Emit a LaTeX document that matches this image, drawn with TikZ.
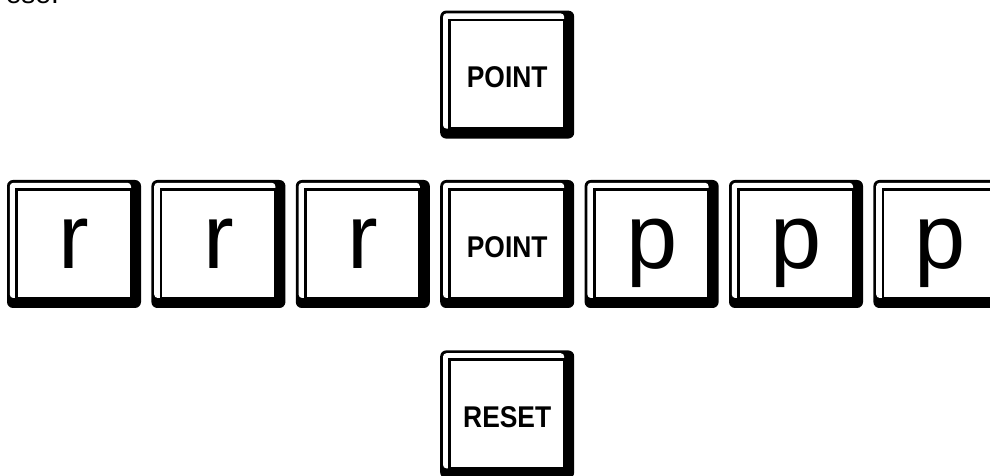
\documentclass[tikz,border=0pt]{standalone}
\usepackage{fontspec}
\setmainfont{Liberation Sans}
\newfontfamily\capfont[FakeStretch=0.88]{Liberation Sans}
\usetikzlibrary{positioning}

\begin{document}
\begin{tikzpicture}[x=1pt, y=1pt, node distance=10pt]
  \tikzstyle{keycap}=[rectangle, rounded corners=6pt, minimum width=134pt,
                   minimum height=128pt, inner sep=0pt, fill=black,
                   path picture={
                     \fill[white, rounded corners=3.5pt]
                       ([shift={(2.8pt,-2.8pt)}]path picture bounding box.north west) rectangle
                       ([shift={(-10pt,10pt)}]path picture bounding box.south east);
                     \draw[line width=2.8pt, fill=white, sharp corners]
                       ([shift={(9.5pt,-9.5pt)}]path picture bounding box.north west) rectangle
                       ([shift={(-10pt,10pt)}]path picture bounding box.south east);
                   }]
  \tikzstyle{letterkey}=[keycap, font=\fontsize{92}{92}\selectfont,
                   text height=49.7pt, text depth=0pt]
  \tikzstyle{wordkey}=[keycap, font=\capfont\bfseries\fontsize{30}{30}\selectfont,
                   text height=26.5pt, text depth=0pt]

  \useasboundingbox (0,0) rectangle (990,476);
  \clip (0,0) rectangle (990,476);

  % cut-off text from above
  \node[font=\fontsize{28}{28}\selectfont, anchor=base east, inner sep=0pt] (frag) at (59,472.5) {ese.};

  % middle row
  \node[letterkey] (r1) at (74,232) {r};
  \node[letterkey, right=of r1] (r2) {r};
  \node[letterkey, right=of r2] (r3) {r};
  \node[wordkey, right=of r3] (mid) {POINT};
  \node[letterkey, right=of mid] (p1) {p};
  \node[letterkey, right=of p1] (p2) {p};
  \node[letterkey, right=of p2] (p3) {p};

  % keys above and below
  \node[wordkey, above=41pt of mid] (top) {POINT};
  \node[wordkey, below=42pt of mid] (reset) {RESET};
\end{tikzpicture}
\end{document}
